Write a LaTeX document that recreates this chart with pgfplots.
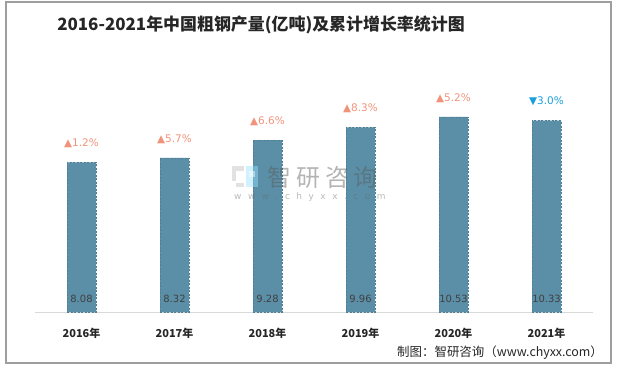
\documentclass[border=0pt]{standalone}
\usepackage{pgfplots}
\pgfplotsset{compat=1.18}
\usepackage{fontspec}
\setmainfont{DejaVu Sans}
\newfontfamily\cjk{Noto Sans CJK SC}
\newfontfamily\dv{DejaVu Sans}
\definecolor{barc}{HTML}{5B8FA7}
\definecolor{upc}{HTML}{F0937B}
\definecolor{downc}{HTML}{1A9FDB}
\begin{document}
\begin{tikzpicture}[x=1bp,y=1bp]
\path[use as bounding box] (0,0) rectangle (618,367);
\draw[color=black!38, line width=1.2bp] (6,4) rectangle (611,365);
\node[font=\cjk\bfseries\fontsize{17}{17}\selectfont, text=black!85] at (261,342) {2016-2021年中国粗钢产量(亿吨)及累计增长率统计图};
\begin{axis}[
  at={(35bp,55bp)}, anchor=south west, scale only axis,
  width=558bp, height=252bp,
  xmin=-0.5, xmax=5.5, ymin=0, ymax=13.6,
  axis y line=none, axis x line*=bottom,
  x axis line style={draw=black!15, line width=0.8bp, -},
  xtick={0,1,2,3,4,5},
  xticklabels={2016年,2017年,2018年,2019年,2020年,2021年},
  major tick length=0pt, ytick=\empty,
  xticklabel style={font=\cjk\bfseries\fontsize{11}{11}\selectfont, text=black!85, anchor=center, yshift=-21bp},
  clip=false,
]
\addplot[ybar, bar width=29bp, fill=barc, draw=barc!88!black, dash pattern=on 2bp off 1.5bp, line width=0.3bp]
  coordinates {(0,8.08) (1,8.32) (2,9.28) (3,9.96) (4,10.53) (5,10.33)};
\addplot[draw=none, mark=none, nodes near coords, point meta=explicit symbolic,
  nodes near coords style={anchor=center, yshift=13bp, font=\dv\fontsize{10}{10}\selectfont, text=black!75}]
  coordinates {(0,0)[8.08] (1,0)[8.32] (2,0)[9.28] (3,0)[9.96] (4,0)[10.53] (5,0)[10.33]};
\addplot[draw=none, mark=none, nodes near coords, point meta=explicit symbolic,
  nodes near coords style={anchor=center, yshift=19bp, font=\dv\fontsize{10.5}{10.5}\selectfont, text=upc}]
  coordinates {(0,8.08)[▲1.2\%] (1,8.32)[▲5.7\%] (2,9.28)[▲6.6\%] (3,9.96)[▲8.3\%] (4,10.53)[▲5.2\%]};
\addplot[draw=none, mark=none, nodes near coords, point meta=explicit symbolic,
  nodes near coords style={anchor=center, yshift=19bp, font=\dv\fontsize{10.5}{10.5}\selectfont, text=downc}]
  coordinates {(5,10.33)[▼3.0\%]};
\end{axis}
% watermark
\begin{scope}[opacity=0.45]
\fill[black!25] (232,196) rectangle (244,201);
\fill[black!25] (232,186) rectangle (236,196);
\fill[black!25] (236,180) rectangle (244,184);
\fill[blue!30!cyan!40] (246,180) rectangle (258,201);
\fill[white] (249,190) rectangle (255,196);
\node[font=\cjk\fontsize{24}{24}\selectfont, text=black!65, anchor=west, inner sep=0pt] at (267,189.5) {智\hspace{5bp}研\hspace{5bp}咨\hspace{5bp}询};
\node[font=\dv\fontsize{9}{9}\selectfont, text=black!60, anchor=base west, inner sep=0pt] at (234,168) {w\hspace{6.5bp}w\hspace{6.5bp}w\hspace{6.5bp}.\hspace{6.5bp}c\hspace{6.5bp}h\hspace{6.5bp}y\hspace{6.5bp}x\hspace{6.5bp}x\hspace{6.5bp}.\hspace{6.5bp}c\hspace{6.5bp}o\hspace{6.5bp}m};
\end{scope}
\node[font=\cjk\fontsize{12.5}{12.5}\selectfont, text=black!85, anchor=west, inner sep=0pt] at (397,14) {制图：智研咨询（www.chyxx.com）};
\end{tikzpicture}
\end{document}
